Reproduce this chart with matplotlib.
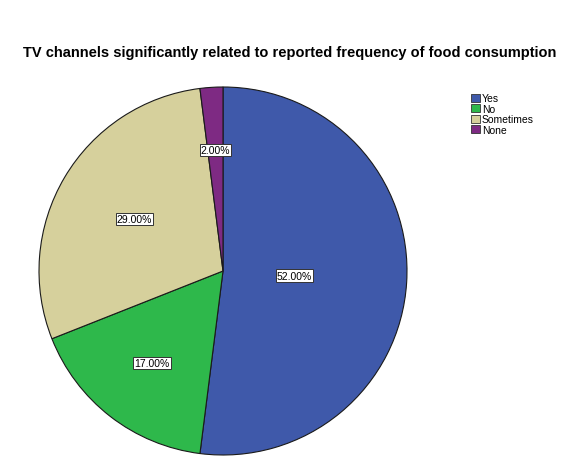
import matplotlib
matplotlib.use('Agg')
import matplotlib.pyplot as plt
import numpy as np

categories = ['Yes', 'No', 'Sometimes', 'None']
percents = [52.0, 17.0, 29.0, 2.0]
colors = ['#3F59AA', '#2EB84B', '#D6D09C', '#7E2A83']

plt.rcParams['font.family'] = ['Liberation Sans', 'DejaVu Sans']

fig = plt.figure(figsize=(5.8, 4.64), dpi=100)
fig.patch.set_facecolor('white')

# pie centre about (223, 272) px, radius ~184 px
W, H = 580, 464
cx, cy, r = 223, 272, 184
ax = fig.add_axes([(cx - r) / W, (H - cy - r) / H, 2 * r / W, 2 * r / H])

wedges, _ = ax.pie(percents, colors=colors, startangle=90, counterclock=False,
                   wedgeprops=dict(edgecolor='#1a1a1a', linewidth=0.8))
ax.set_aspect('equal')
ax.set_xlim(-1, 1)
ax.set_ylim(-1, 1)

# where SPSS put each label, as fraction of radius
label_r = [0.39, 0.63, 0.56, 0.66]
for w, p, lr in zip(wedges, percents, label_r):
    ang = np.deg2rad((w.theta1 + w.theta2) / 2)
    ax.text(lr * np.cos(ang), lr * np.sin(ang), '%.2f%%' % p,
            ha='center', va='center', fontsize=7.5,
            bbox=dict(boxstyle='square,pad=0.1', facecolor='white',
                      edgecolor='#333333', linewidth=0.7))

fig.text(0.5, 1 - 53 / H, 'TV channels significantly related to reported frequency of food consumption',
         ha='center', va='center', fontsize=10.5, fontweight='bold')

leg = fig.legend(wedges, categories, loc='upper left',
                 bbox_to_anchor=(466 / W, 1 - 89 / H), frameon=False,
                 fontsize=7.5, handlelength=0.8, handleheight=0.8,
                 handletextpad=0.2, labelspacing=0.05, borderpad=0)
for h in leg.legend_handles:
    h.set_edgecolor('#333333')
    h.set_linewidth(0.6)

fig.savefig('out.png', dpi=100)
